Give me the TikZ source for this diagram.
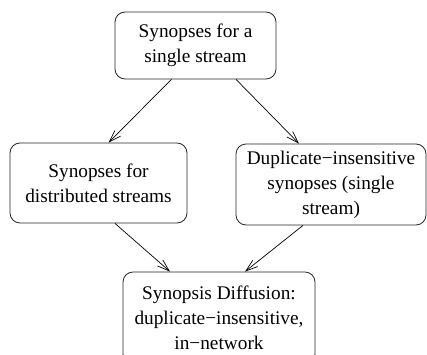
\documentclass[tikz,border=0pt]{standalone}
\usepackage{fontspec}
\setmainfont{Liberation Serif}
\usepackage{tikz}
\usetikzlibrary{arrows.meta, positioning}
\tikzstyle{block}    = [rectangle, rounded corners=10pt, draw=black!85, line width=0.8pt,
                        align=center, inner sep=0pt,
                        font=\fontsize{19.3}{25}\selectfont]
\tikzstyle{arrow}    = [line width=0.7pt, -{Straight Barb[length=12pt,width=8pt]}]

\begin{document}
\begin{tikzpicture}[x=1pt, y=1pt]
  \useasboundingbox (0,0) rectangle (427,354);

  % Single stream
  \node[block, minimum width=161pt, minimum height=67pt] (single) at (195.5,308.5)
        {Synopses for a\\single stream};

  % Distributed streams
  \node[block, minimum width=177pt, minimum height=80pt] (distrib) at (98.5,171)
        {Synopses for\\distributed streams};

  % Duplicate-insensitive
  \node[block, minimum width=190pt, minimum height=81pt] (dupins) at (331,169.5)
        {Duplicate−insensitive\\synopses (single\\stream)};

  % Synopsis diffusion
  \node[block, minimum width=192pt, minimum height=92pt] (diffusion) at (219,36)
        {Synopsis Diffusion:\\duplicate−insensitive,\\in−network};

  \draw[arrow] ([xshift=-24pt]single.south) -- ([xshift=10pt]distrib.north);
  \draw[arrow] ([xshift=40.5pt]single.south) -- ([xshift=-32pt]dupins.north);
  \draw[arrow] ([xshift=16.5pt]distrib.south) -- ([xshift=-49pt]diffusion.north);
  \draw[arrow] ([xshift=-28pt]dupins.south) -- ([xshift=26pt]diffusion.north);

\end{tikzpicture}
\end{document}
